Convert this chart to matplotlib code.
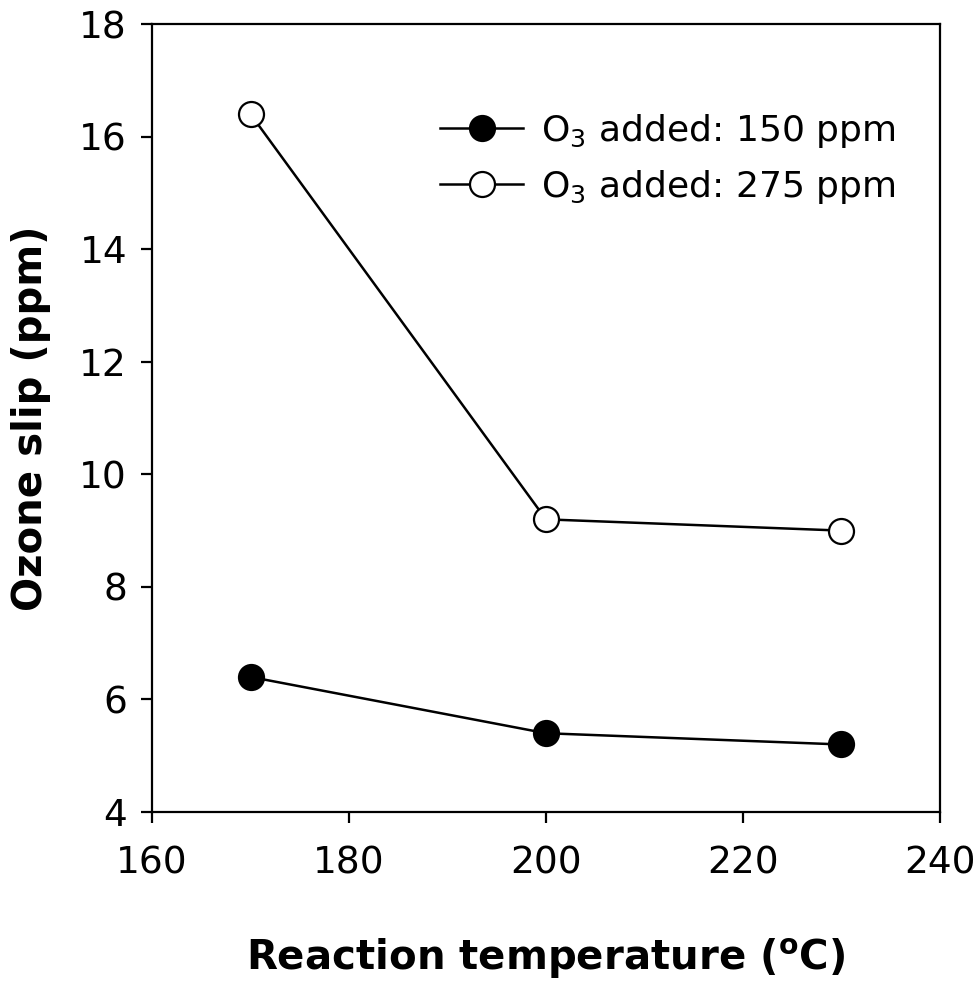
import matplotlib
matplotlib.use('Agg')
import matplotlib.pyplot as plt

# data
temperature = [170, 200, 230]
slip_150 = [6.4, 5.4, 5.2]
slip_275 = [16.4, 9.2, 9.0]
labels = ['O$_3$ added: 150 ppm', 'O$_3$ added: 275 ppm']

plt.rcParams['font.family'] = ['DejaVu Sans']
plt.rcParams['mathtext.default'] = 'regular'

fig = plt.figure(figsize=(9.77, 10.02), dpi=100)
ax = fig.add_axes([0.1556, 0.1896, 0.8064, 0.7864])

ax.plot(temperature, slip_150, '-o', color='black', lw=1.8,
        markersize=18, markerfacecolor='black', markeredgecolor='black',
        markeredgewidth=1.6, label=labels[0])
ax.plot(temperature, slip_275, '-o', color='black', lw=1.8,
        markersize=18, markerfacecolor='white', markeredgecolor='black',
        markeredgewidth=1.6, label=labels[1])

ax.set_xlim(160, 240)
ax.set_ylim(4, 18)
ax.set_xticks([160, 180, 200, 220, 240])
ax.set_yticks([4, 6, 8, 10, 12, 14, 16, 18])

for s in ax.spines.values():
    s.set_linewidth(1.6)
ax.tick_params(direction='out', length=8, width=1.6, labelsize=27)
ax.tick_params(axis='x', pad=16)
ax.tick_params(axis='y', pad=10)

ax.set_xlabel('Reaction temperature ($^{o}$C)', fontsize=29, fontweight='bold', labelpad=40)
ax.set_ylabel('Ozone slip (ppm)', fontsize=29, fontweight='bold', labelpad=20)

ax.legend(loc='upper right', bbox_to_anchor=(0.985, 0.93), frameon=False,
          fontsize=26, handlelength=2.3, handletextpad=0.5, labelspacing=0.5)

fig.savefig('out.png', dpi=100)
